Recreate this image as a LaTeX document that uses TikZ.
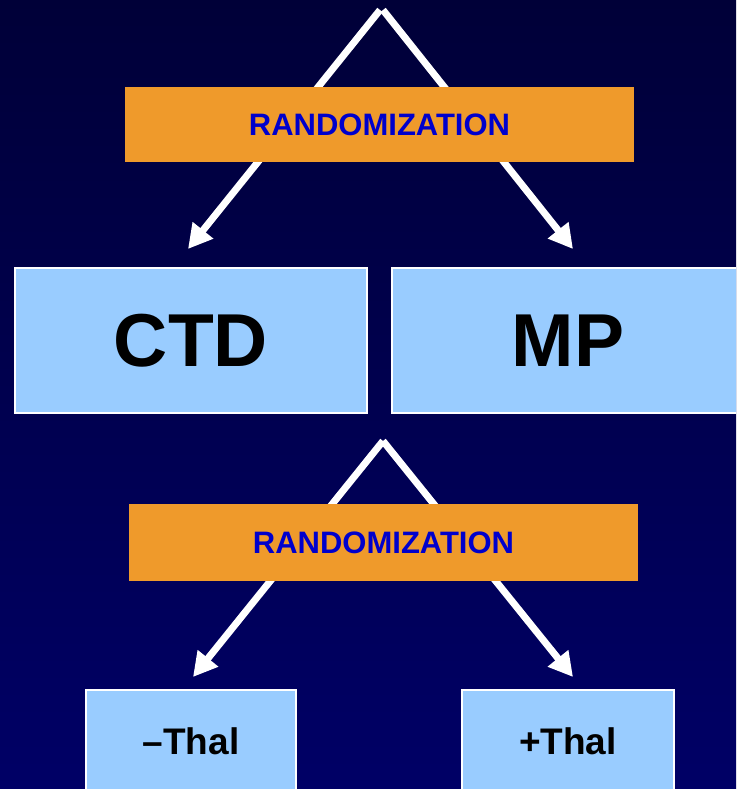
\documentclass[tikz,border=0pt]{standalone}
\usepackage{fontspec}
\setmainfont{Liberation Sans}
\usetikzlibrary{arrows.meta}
\definecolor{bgtop}{HTML}{000038}
\definecolor{bgbot}{HTML}{000066}
\definecolor{boxblue}{HTML}{99CCFF}
\definecolor{orangebox}{HTML}{EF9A2B}
\definecolor{randtext}{HTML}{0000CC}
\tikzset{
  arm/.style={draw=white, line width=7pt, -{Triangle[length=24pt,width=25pt]}},
  randbox/.style={fill=orangebox, minimum width=509pt, inner sep=0pt,
    font=\fontsize{31}{31}\selectfont\bfseries, text=randtext},
  groupbox/.style={fill=boxblue, draw=white, line width=2pt, inner sep=0pt},
  bigbox/.style={groupbox, minimum width=352pt, minimum height=145pt,
    font=\fontsize{75}{75}\selectfont\bfseries},
  smallbox/.style={groupbox, minimum height=102pt,
    font=\fontsize{37}{37}\selectfont\bfseries}
}
\begin{document}
\begin{tikzpicture}[x=1pt,y=1pt]
\useasboundingbox (0,0) rectangle (736,789);
\clip (0,0) rectangle (736,789);
\shade[top color=bgtop, bottom color=bgbot] (0,0) rectangle (736,789);
% top split
\coordinate (a1l) at (380,779);
\coordinate (a1r) at (383,779);
\coordinate (t1l) at (188,540);
\coordinate (t1r) at (573,540);
\draw[arm] (a1l) -- (t1l);
\draw[arm] (a1r) -- (t1r);
\node[randbox, minimum height=75pt] (rand1) at (379.5,664.5) {RANDOMIZATION};
% first-level groups
\node[bigbox] (ctd) at (191,448.5) {CTD};
\node[bigbox] (mp) at (568,448.5) {MP};
% second split
\coordinate (a2) at (383,348);
\coordinate (t2l) at (193,112);
\coordinate (t2r) at (573,112);
\draw[arm] (a2) -- (t2l);
\draw[arm] (a2) -- (t2r);
\node[randbox, minimum height=77pt] (rand2) at (383.5,246.5) {RANDOMIZATION};
% second-level groups
\node[smallbox, minimum width=210pt] (nothal) at (191,48) {–Thal};
\node[smallbox, minimum width=212pt] (thal) at (568,48) {+Thal};
\end{tikzpicture}
\end{document}
